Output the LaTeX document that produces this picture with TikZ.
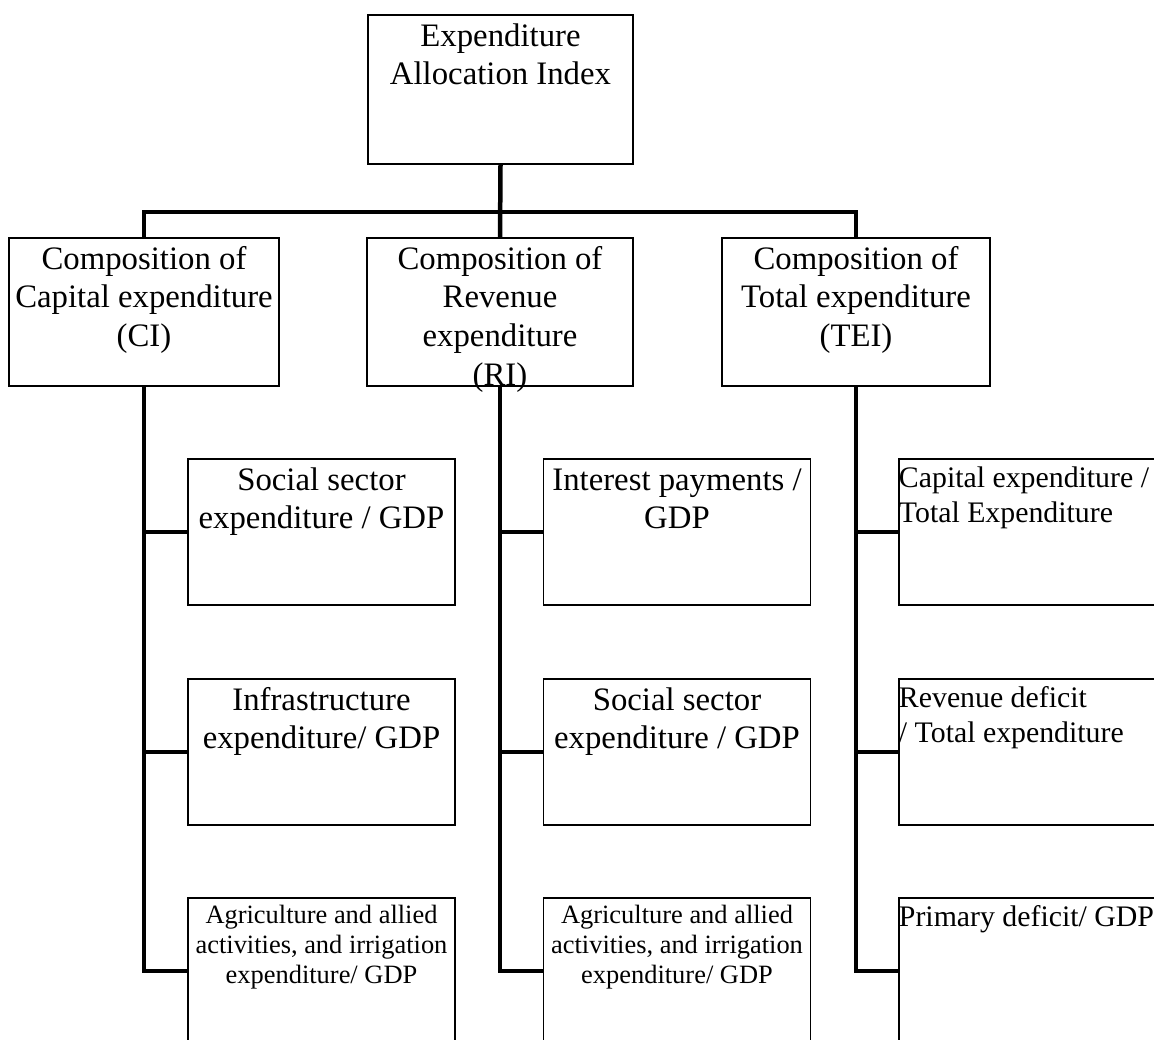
\documentclass[tikz,border=0pt]{standalone}
\usepackage{fontspec}
\setmainfont{Liberation Serif}
\usepackage{tikz}
\newcommand{\txtL}{\fontsize{23.3}{27.4}\selectfont}
\newcommand{\txtM}{\fontsize{21.2}{24.9}\selectfont}
\newcommand{\txtS}{\fontsize{18.8}{21.4}\selectfont}
\newcommand{\cell}[4]{\parbox[c][#2][t]{#1}{#3\rule{0pt}{0.96em}#4}}

\tikzset{
  box/.style={draw, line width=1pt, inner sep=0pt},
  bus/.style={line width=3.2pt},
}

\begin{document}
\begin{tikzpicture}[x=0.025cm, y=-0.025cm]
\useasboundingbox (0,0) rectangle (1154,1039);
\clip (0,0) rectangle (1154,1039);

\node[box] (eai) at (500.5,89.5) {\cell{6.625cm}{3.725cm}{\txtL\centering}{Expenditure\\ Allocation Index}};

\node[box] (ci) at (144,312) {\cell{6.75cm}{3.7cm}{\txtL\centering}{Composition of\\ Capital expenditure\\ (CI)}};
\node[box] (ri) at (500,312) {\cell{6.65cm}{3.7cm}{\txtL\centering}{Composition of\\ Revenue\\ expenditure\\ (RI)}};
\node[box] (tei) at (856,312) {\cell{6.7cm}{3.7cm}{\txtL\centering}{Composition of\\ Total expenditure\\ (TEI)}};

% capital side
\node[box] (ci1) at (321.5,532) {\cell{6.675cm}{3.65cm}{\txtL\centering}{Social sector\\ expenditure / GDP}};
\node[box] (ci2) at (321.5,752) {\cell{6.675cm}{3.65cm}{\txtL\centering}{Infrastructure\\ expenditure/ GDP}};
\node[box] (ci3) at (321.5,971) {\cell{6.675cm}{3.65cm}{\txtS\centering}{Agriculture and allied\\ activities, and irrigation\\ expenditure/ GDP}};

% revenue side
\node[box] (ri1) at (677,532) {\cell{6.675cm}{3.65cm}{\txtL\centering}{Interest payments /\\ GDP}};
\node[box] (ri2) at (677,752) {\cell{6.675cm}{3.65cm}{\txtL\centering}{Social sector\\ expenditure / GDP}};
\node[box] (ri3) at (677,971) {\cell{6.675cm}{3.65cm}{\txtS\centering}{Agriculture and allied\\ activities, and irrigation\\ expenditure/ GDP}};

% total side
\node[box] (tei1) at (1032.5,532) {\cell{6.675cm}{3.65cm}{\txtM\raggedright}{Capital expenditure /\\ Total Expenditure}};
\node[box] (tei2) at (1032.5,752) {\cell{6.675cm}{3.65cm}{\txtM\raggedright}{Revenue deficit\\ / Total expenditure}};
\node[box] (tei3) at (1032.5,971) {\cell{6.675cm}{3.65cm}{\txtM\raggedright}{Primary deficit/ GDP}};

\coordinate (bus) at (500,212);
\draw[bus] (eai.south) -- (ri.north);
\draw[bus] (ci.north) |- (bus) -| (tei.north);
\foreach \g in {ci,ri,tei} {
  \draw[bus] (\g.south) |- (\g3.west);
  \foreach \n in {1,2}
    \draw[bus] (\g\n.west) -- (\g\n.west -| \g.south);
}
\end{tikzpicture}
\end{document}
